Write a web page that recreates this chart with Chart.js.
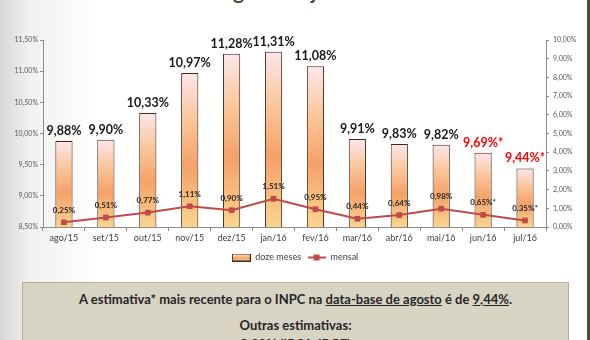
<!DOCTYPE html>
<html>
<head>
<meta charset="utf-8">
<script src="https://cdn.jsdelivr.net/npm/chart.js@4.4.1/dist/chart.umd.min.js"></script>
<style>
html, body { margin: 0; padding: 0; }
body {
    width: 590px; height: 340px; overflow: hidden; position: relative;
    background: linear-gradient(to right, #d6d6d6 0px, #f1f1f1 30px, #ffffff 100px);
    font-family: Lato, "Open Sans", sans-serif;
}
#title {
    position: absolute; left: 0; top: -22px; width: 590px;
    text-align: center; font: bold 21px Lato, sans-serif; color: #4a4a42;
}
#wrap { position: absolute; left: 0; top: 0; width: 590px; height: 272px; }
#box {
    position: absolute; left: 22px; top: 282px; width: 545px; height: 80px;
    background: #d7d4c4; border: 1px solid #b3b09a;
    text-align: center; color: #262626; font: bold 13px Lato, sans-serif;
}
#box p { margin: 0; position: absolute; left: 0; width: 100%; }
#edge { position: absolute; right: 0; top: 0; width: 3px; height: 340px; background: #4d4c40; }
</style>
</head>
<body>
<div id="title">ago/15 a jul/16</div>
<div id="wrap"><canvas id="chart"></canvas></div>
<div id="box">
    <p style="top:8px">A estimativa* mais recente para o INPC na <u>data-base de agosto</u> é de <u>9,44%</u>.</p>
    <p style="top:34px">Outras estimativas:</p>
    <p style="top:53px">9,88% (IPCA-IBGE)</p>
</div>
<div id="edge"></div>
<script>
// values
const months = ["ago/15", "set/15", "out/15", "nov/15", "dez/15", "jan/16", "fev/16", "mar/16", "abr/16", "mai/16", "jun/16", "jul/16"];
const dozeMeses = [9.88, 9.90, 10.33, 10.97, 11.28, 11.31, 11.08, 9.91, 9.83, 9.82, 9.69, 9.44];
const mensal = [0.25, 0.51, 0.77, 1.11, 0.90, 1.51, 0.95, 0.44, 0.64, 0.98, 0.65, 0.35];
const estimado = [false, false, false, false, false, false, false, false, false, false, true, true];
const leftMin = 8.5, leftMax = 11.5, leftStep = 0.5;
const rightMin = 0, rightMax = 10, rightStep = 1;

const FONT = "Lato";
const lineColor = "#be4b48";
const axisColor = "#8c8c8c";

function fmt(v) {
    return v.toFixed(2).replace(".", ",") + "%";
}

function barGradient(ctx, top, bottom) {
    var g = ctx.createLinearGradient(0, top, 0, bottom);
    g.addColorStop(0, "#fde6ea");
    g.addColorStop(0.3, "#fbc79c");
    g.addColorStop(0.6, "#f5a168");
    g.addColorStop(1, "#fcd48e");
    return g;
}

// little pictures for the legend
function legendBar() {
    var c = document.createElement("canvas");
    c.width = 19; c.height = 8;
    var x = c.getContext("2d");
    x.fillStyle = barGradient(x, 0, 8);
    x.fillRect(0.5, 0.5, 18, 7);
    x.strokeStyle = "#3a2a1e";
    x.lineWidth = 1;
    x.strokeRect(0.5, 0.5, 18, 7);
    return c;
}
function legendLine() {
    var c = document.createElement("canvas");
    c.width = 18; c.height = 8;
    var x = c.getContext("2d");
    x.fillStyle = lineColor;
    x.fillRect(0, 3, 18, 2);
    x.fillRect(6, 1, 6, 6);
    return c;
}

const valueLabels = {
    id: "valueLabels",
    afterDatasetsDraw(chart) {
        var ctx = chart.ctx;
        ctx.save();
        ctx.textAlign = "center";
        ctx.textBaseline = "middle";
        chart.getDatasetMeta(0).data.forEach((el, i) => {
            ctx.font = "bold 12.5px " + FONT;
            ctx.fillStyle = estimado[i] ? "#ff0000" : "#1a1a1a";
            ctx.fillText(fmt(dozeMeses[i]) + (estimado[i] ? "*" : ""), el.x, el.y - 10);
        });
        chart.getDatasetMeta(1).data.forEach((el, i) => {
            ctx.font = "bold 8px " + FONT;
            ctx.fillStyle = "#262626";
            ctx.fillText(fmt(mensal[i]) + (estimado[i] ? "*" : ""), el.x, el.y - 12);
        });
        ctx.restore();
    }
};

var chart = new Chart(document.getElementById("chart"), {
    data: {
        labels: months,
        datasets: [
            {
                type: "bar",
                label: "doze meses",
                data: dozeMeses,
                yAxisID: "y",
                order: 1,
                backgroundColor: function (c) {
                    var area = c.chart.chartArea;
                    if (!area || c.type !== "data") return "#f8b878";
                    var top = c.chart.scales.y.getPixelForValue(dozeMeses[c.dataIndex]);
                    return barGradient(c.chart.ctx, top, area.bottom);
                },
                borderColor: "#3a2a1e",
                borderWidth: 1,
                categoryPercentage: 1,
                barPercentage: 0.41
            },
            {
                type: "line",
                label: "mensal",
                data: mensal,
                yAxisID: "y1",
                order: 0,
                borderColor: lineColor,
                backgroundColor: lineColor,
                borderWidth: 2,
                pointStyle: "rect",
                pointRadius: 4,
                pointBorderWidth: 0,
                tension: 0
            }
        ]
    },
    options: {
        responsive: true,
        maintainAspectRatio: false,
        animation: false,
        layout: { padding: { top: 40, left: 0, right: 0, bottom: 0 } },
        scales: {
            x: {
                grid: { drawOnChartArea: false, tickLength: 4, color: axisColor, offset: true },
                border: { color: axisColor },
                ticks: { font: { family: FONT, size: 9 }, color: "#404040", padding: 2, maxRotation: 0 },
                afterFit(s) { s.height = 20; }
            },
            y: {
                position: "left",
                min: leftMin, max: leftMax,
                grid: { drawOnChartArea: false, tickLength: 3, color: axisColor },
                border: { color: axisColor },
                ticks: { stepSize: leftStep, callback: v => fmt(v), font: { family: FONT, size: 7 }, color: "#595959", padding: 2 },
                afterFit(s) { s.width = 43; }
            },
            y1: {
                position: "right",
                min: rightMin, max: rightMax,
                grid: { drawOnChartArea: false, tickLength: 3, color: axisColor },
                border: { color: axisColor },
                ticks: { stepSize: rightStep, callback: v => fmt(v), font: { family: FONT, size: 7 }, color: "#595959", padding: 4 },
                afterFit(s) { s.width = 44; }
            }
        },
        plugins: {
            tooltip: { enabled: false },
            legend: {
                position: "bottom",
                labels: {
                    usePointStyle: true,
                    pointStyleWidth: 19,
                    boxHeight: 9,
                    padding: 6,
                    font: { family: FONT, size: 9 },
                    color: "#404040",
                    generateLabels: () => [
                        { text: "doze meses", pointStyle: legendBar(), datasetIndex: 0, lineWidth: 0, hidden: false, fontColor: "#404040" },
                        { text: "mensal", pointStyle: legendLine(), datasetIndex: 1, lineWidth: 0, hidden: false, fontColor: "#404040" }
                    ]
                }
            }
        }
    },
    plugins: [valueLabels]
});
</script>
</body>
</html>
